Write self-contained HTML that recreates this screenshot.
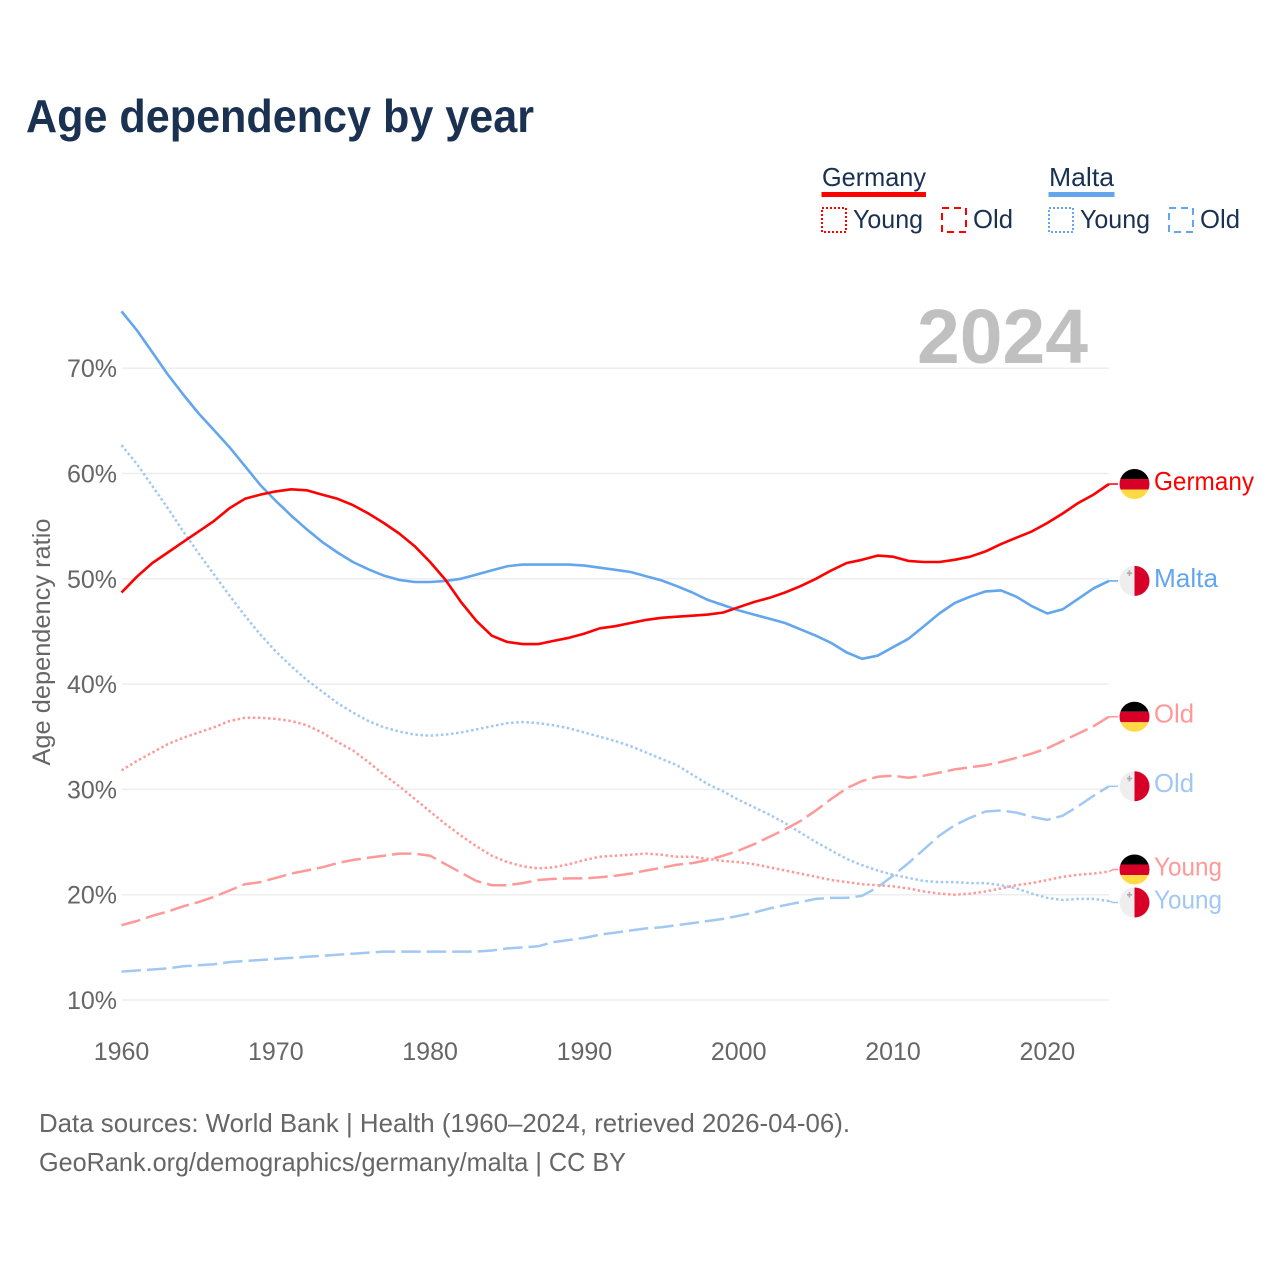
<!DOCTYPE html>
<html lang="en">
<head>
<meta charset="utf-8">
<title>Age dependency by year</title>
<style>
html,body{margin:0;padding:0;background:#fff}
svg{display:block;font-family:"Liberation Sans",sans-serif}
</style>
</head>
<body>
<svg id="chart" xmlns="http://www.w3.org/2000/svg" width="1280" height="1280" viewBox="0 0 1280 1280">
  <defs>
    <clipPath id="flag-clip"><circle cx="0" cy="0" r="15"/></clipPath>
  </defs>
  <rect width="1280" height="1280" fill="#fff"/>
  <text x="26" y="132" font-size="46" font-weight="700" fill="#1a3152" textLength="508" lengthAdjust="spacingAndGlyphs">Age dependency by year</text>

  <g font-size="26" fill="#1a3152">
    <text x="822" y="186" textLength="104" lengthAdjust="spacingAndGlyphs">Germany</text>
    <rect x="821.5" y="192" width="104.5" height="5" fill="#ff0000"/>
    <rect x="822" y="208" width="24" height="24" fill="none" stroke="#ff0000" stroke-width="2" stroke-dasharray="2 2"/>
    <text x="853" y="228" textLength="70" lengthAdjust="spacingAndGlyphs">Young</text>
    <rect x="942" y="208" width="24" height="24" fill="none" stroke="#ff0000" stroke-width="2" stroke-dasharray="7 5"/>
    <text x="973" y="228" textLength="40" lengthAdjust="spacingAndGlyphs">Old</text>
    <text x="1049" y="186" textLength="65" lengthAdjust="spacingAndGlyphs">Malta</text>
    <rect x="1048.5" y="192" width="66" height="5" fill="#63a6ee"/>
    <rect x="1049" y="208" width="24" height="24" fill="none" stroke="#63a6ee" stroke-width="2" stroke-dasharray="2 2"/>
    <text x="1080" y="228" textLength="70" lengthAdjust="spacingAndGlyphs">Young</text>
    <rect x="1169" y="208" width="24" height="24" fill="none" stroke="#63a6ee" stroke-width="2" stroke-dasharray="7 5"/>
    <text x="1200" y="228" textLength="40" lengthAdjust="spacingAndGlyphs">Old</text>
  </g>

  <g id="grid"></g>
  <text x="917" y="363" font-size="77" font-weight="700" fill="#c0c0c0" textLength="171" lengthAdjust="spacingAndGlyphs">2024</text>
  <g id="y-ticks" font-size="25" fill="#666" text-anchor="end"></g>
  <g id="x-ticks" font-size="25" fill="#666" text-anchor="middle"></g>
  <text transform="translate(50,642) rotate(-90)" font-size="25" fill="#666" text-anchor="middle" textLength="247" lengthAdjust="spacingAndGlyphs">Age dependency ratio</text>
  <g id="series"></g>
  <g id="end-labels"></g>

  <g font-size="26" fill="#666">
    <text x="39" y="1132" textLength="811" lengthAdjust="spacingAndGlyphs">Data sources: World Bank | Health (1960–2024, retrieved 2026-04-06).</text>
    <text x="39" y="1171" textLength="587" lengthAdjust="spacingAndGlyphs">GeoRank.org/demographics/germany/malta | CC BY</text>
  </g>
</svg>
<script>
const firstYear = 1960;
const xTickLabels = [1960, 1970, 1980, 1990, 2000, 2010, 2020];
const yTickLabels = [10, 20, 30, 40, 50, 60, 70];
const germanyTotal = [48.7,50.2,51.5,52.5,53.5,54.5,55.5,56.7,57.6,58.0,58.3,58.5,58.4,58.0,57.6,57.0,56.2,55.3,54.3,53.1,51.6,49.9,47.8,46.0,44.6,44.0,43.8,43.8,44.1,44.4,44.8,45.3,45.5,45.8,46.1,46.3,46.4,46.5,46.6,46.8,47.3,47.8,48.2,48.7,49.3,50.0,50.8,51.5,51.8,52.2,52.1,51.7,51.6,51.6,51.8,52.1,52.6,53.3,53.9,54.5,55.3,56.2,57.2,58.0,59.0];
const maltaTotal = [75.4,73.6,71.5,69.4,67.5,65.7,64.1,62.5,60.7,58.9,57.4,56.0,54.7,53.5,52.5,51.6,50.9,50.3,49.9,49.7,49.7,49.8,50.0,50.4,50.8,51.2,51.35,51.35,51.35,51.35,51.25,51.05,50.85,50.65,50.25,49.85,49.3,48.7,48.0,47.5,47.0,46.6,46.2,45.8,45.2,44.6,43.9,43.0,42.4,42.7,43.5,44.3,45.5,46.7,47.7,48.3,48.8,48.9,48.3,47.4,46.7,47.1,48.1,49.1,49.8];
const germanyOld = [17.1,17.5,18.0,18.4,18.9,19.3,19.8,20.4,21.0,21.2,21.6,22.0,22.3,22.6,23.0,23.3,23.5,23.7,23.9,23.9,23.7,22.9,22.1,21.3,20.9,20.9,21.1,21.4,21.5,21.55,21.55,21.65,21.8,22.0,22.3,22.55,22.85,23.0,23.3,23.7,24.2,24.8,25.5,26.2,27.0,28.0,29.1,30.1,30.8,31.2,31.3,31.1,31.3,31.6,31.9,32.1,32.3,32.6,33.0,33.4,33.9,34.6,35.3,36.0,36.9];
const germanyYoung = [31.8,32.7,33.5,34.3,34.9,35.4,35.9,36.5,36.8,36.8,36.7,36.5,36.1,35.4,34.5,33.7,32.6,31.4,30.3,29.1,27.9,26.7,25.6,24.6,23.7,23.1,22.7,22.5,22.6,22.9,23.3,23.6,23.7,23.8,23.9,23.8,23.6,23.6,23.4,23.2,23.1,22.9,22.6,22.3,22.0,21.7,21.4,21.2,21.0,20.9,20.8,20.6,20.3,20.1,20.0,20.1,20.3,20.6,20.9,21.1,21.4,21.7,21.9,22.0,22.2];
const maltaOld = [12.7,12.8,12.9,13.0,13.2,13.3,13.4,13.6,13.7,13.8,13.9,14.0,14.1,14.2,14.3,14.4,14.5,14.6,14.6,14.6,14.6,14.6,14.6,14.6,14.7,14.9,15.0,15.1,15.5,15.7,15.9,16.2,16.4,16.6,16.8,16.9,17.1,17.3,17.5,17.7,18.0,18.3,18.7,19.0,19.3,19.6,19.7,19.7,19.9,20.7,21.8,23.0,24.3,25.6,26.6,27.3,27.9,28.0,27.8,27.4,27.1,27.5,28.4,29.4,30.3];
const maltaYoung = [62.7,60.9,58.8,56.7,54.5,52.4,50.4,48.4,46.5,44.7,43.1,41.7,40.4,39.3,38.2,37.3,36.5,35.9,35.5,35.2,35.1,35.2,35.4,35.7,36.0,36.3,36.4,36.3,36.1,35.8,35.4,35.0,34.6,34.1,33.5,32.9,32.3,31.4,30.5,29.8,29.0,28.3,27.6,26.8,25.9,25.0,24.2,23.4,22.8,22.3,21.9,21.6,21.3,21.2,21.2,21.1,21.1,20.9,20.6,20.1,19.7,19.5,19.6,19.6,19.4];

const SVGNS = 'http://www.w3.org/2000/svg';
const xScale = year => 121.5 + (year - 1960) * 15.43;
const yScale = pct => 1000 - (pct - 10) * 10.53;

function make(tag, attrs, parent) {
  const el = document.createElementNS(SVGNS, tag);
  for (const k in attrs) el.setAttribute(k, attrs[k]);
  parent.appendChild(el);
  return el;
}

const gridGroup = document.getElementById('grid');
const yGroup = document.getElementById('y-ticks');
yTickLabels.forEach(v => {
  const line = make('line', {x1: 122, x2: 1109, y1: yScale(v), y2: yScale(v), stroke: '#eeeeee', 'stroke-width': 1.5}, gridGroup);
  
  
  const t = make('text', {x: 117, y: yScale(v) + 9}, yGroup);
  
  
  t.textContent = v + '%';
});
const xGroup = document.getElementById('x-ticks');
xTickLabels.forEach(v => {
  const t = make('text', {x: xScale(v), y: 1060}, xGroup);
  
  
  t.textContent = v;
});

function addSeries(values, color, width, dash, labelText, labelWidth, flag, nudge, name) {
  const seriesGroup = document.getElementById('series');
  const labelGroup = document.getElementById('end-labels');
  const pts = values.map((v, i) => xScale(firstYear + i).toFixed(1) + ',' + yScale(v).toFixed(1));
  const lastY = yScale(values[values.length - 1]);
  const flagY = lastY + nudge;
  const line = make('polyline', {points: pts.join(' '), fill: 'none', stroke: color, 'stroke-width': width, 'stroke-linejoin': 'round'}, seriesGroup);
  if (dash) line.setAttribute('stroke-dasharray', dash);
  
  
  const lastX = xScale(firstYear + values.length - 1);
  const conn = make('polyline', {points: lastX + ',' + lastY + ' ' + (lastX + 4) + ',' + flagY + ' 1118,' + flagY, fill: 'none', stroke: color, 'stroke-width': 1.5}, seriesGroup);
  
  

  const g = make('g', {transform: 'translate(1134.5,' + flagY + ')', 'clip-path': 'url(#flag-clip)'}, labelGroup);
  
  
  if (flag === 'de') {
    make('rect', {x: -16, y: -16, width: 32, height: 11, fill: '#000000'}, g);
    make('rect', {x: -16, y: -5, width: 32, height: 10.5, fill: '#d80027'}, g);
    make('rect', {x: -16, y: 5.5, width: 32, height: 11, fill: '#ffda44'}, g);
  } else {
    make('rect', {x: -16, y: -16, width: 16, height: 32, fill: '#eeeeee'}, g);
    make('rect', {x: 0, y: -16, width: 16, height: 32, fill: '#d80027'}, g);
    make('path', {d: 'M-6.5-9.5h1.6v-2h1.6v2h2v1.6h-2v2h-1.6v-2h-1.6z', transform: 'translate(-1,1)', fill: '#acabb1'}, g);
  }
  const t = make('text', {x: 1154, y: flagY + 6, 'font-size': 26, fill: color, textLength: labelWidth, lengthAdjust: 'spacingAndGlyphs'}, labelGroup);
  
  
  t.textContent = labelText;
}

addSeries(maltaYoung, '#a1c8f3', 2.5, '2.5 2.6', 'Young', 68, 'mt', 1.5, 'malta-young');
addSeries(maltaOld, '#a1c8f3', 2.5, '19.5 6', 'Old', 40, 'mt', 0, 'malta-old');
addSeries(germanyYoung, '#ff9999', 2.5, '2.5 2.6', 'Young', 68, 'de', -2, 'germany-young');
addSeries(germanyOld, '#ff9999', 2.5, '19.5 6', 'Old', 40, 'de', 0, 'germany-old');
addSeries(maltaTotal, '#63a6ee', 2.6, null, 'Malta', 64, 'mt', 0, 'malta-total');
addSeries(germanyTotal, '#ff0000', 2.6, null, 'Germany', 100, 'de', 0, 'germany-total');
</script>
</body>
</html>
